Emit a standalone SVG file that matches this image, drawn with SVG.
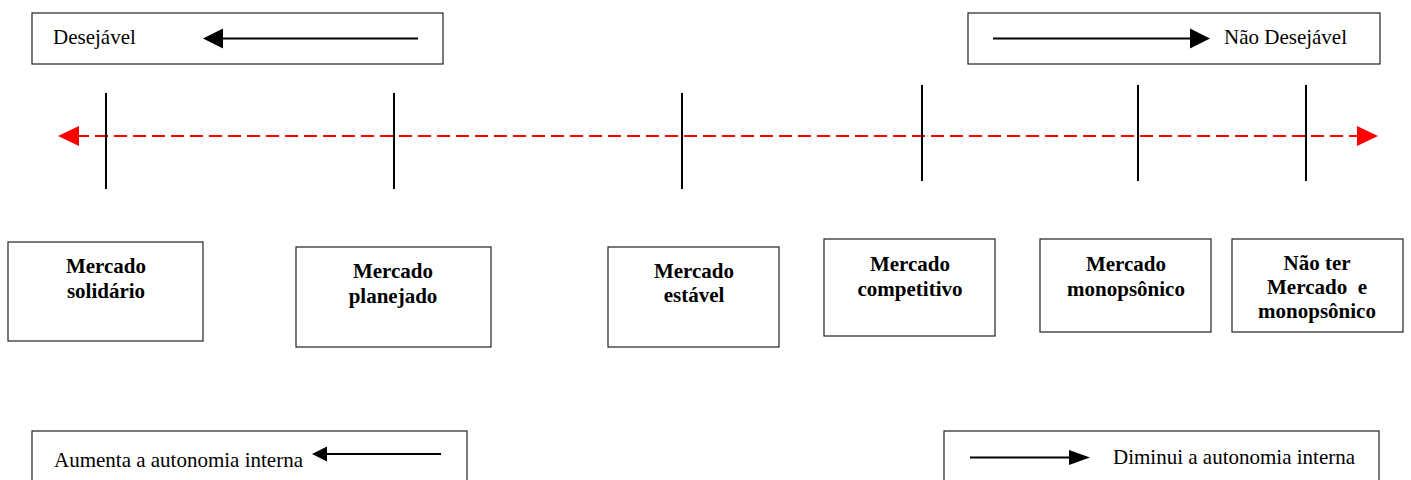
<svg xmlns="http://www.w3.org/2000/svg" width="1411" height="480" viewBox="0 0 1411 480">
<defs>
<style>
.box{fill:#fff;stroke:#222;stroke-width:1.2}
.t{font-family:"Liberation Serif","Times New Roman",serif;font-size:21px;fill:#000}
.b{font-family:"Liberation Serif","Times New Roman",serif;font-size:21px;font-weight:bold;fill:#000;text-anchor:middle;white-space:pre}
.tick{stroke:#000;stroke-width:2}
.ar{stroke:#000;stroke-width:2;fill:none}
</style>
</defs>
<rect width="1411" height="480" fill="#fff"/>
<g id="legend-desejavel">
<rect class="box" x="32" y="13" width="411" height="51"/>
<text class="t" x="53" y="44">Desejável</text>
<line class="ar" x1="418" y1="38.5" x2="220" y2="38.5"/>
<polygon points="203,38.5 223,28.5 223,48.5" fill="#000"/>
</g>
<g id="legend-nao-desejavel">
<rect class="box" x="968" y="13" width="412" height="51"/>
<line class="ar" x1="993" y1="38.5" x2="1192" y2="38.5"/>
<polygon points="1210,38.5 1190,28.5 1190,48.5" fill="#000"/>
<text class="t" x="1224" y="44">Não Desejável</text>
</g>
<g id="connectors">
<line x1="76" y1="136" x2="1360" y2="136" stroke="#f00" stroke-width="2" stroke-dasharray="13,6"/>
<polygon points="58,136 79,126 79,146" fill="#f00"/>
<polygon points="1378,136 1357,126 1357,146" fill="#f00"/>
<line class="tick" x1="106" y1="93" x2="106" y2="189"/>
<line class="tick" x1="394" y1="93" x2="394" y2="189"/>
<line class="tick" x1="682" y1="93" x2="682" y2="189"/>
<line class="tick" x1="922" y1="85" x2="922" y2="181"/>
<line class="tick" x1="1138" y1="85" x2="1138" y2="181"/>
<line class="tick" x1="1306" y1="85" x2="1306" y2="181"/>
</g>
<g id="node-solidario">
<rect class="box" x="8" y="242" width="195" height="99"/>
<text class="b" x="106" y="273">Mercado</text>
<text class="b" x="106" y="298">solidário</text>
</g>
<g id="node-planejado">
<rect class="box" x="296" y="247" width="195" height="100"/>
<text class="b" x="393" y="278">Mercado</text>
<text class="b" x="393" y="303">planejado</text>
</g>
<g id="node-estavel">
<rect class="box" x="608" y="247" width="171" height="100"/>
<text class="b" x="694" y="278">Mercado</text>
<text class="b" x="694" y="302">estável</text>
</g>
<g id="node-competitivo">
<rect class="box" x="824" y="239" width="171" height="97"/>
<text class="b" x="910" y="271">Mercado</text>
<text class="b" x="910" y="296">competitivo</text>
</g>
<g id="node-monopsonico">
<rect class="box" x="1040" y="239" width="171" height="93"/>
<text class="b" x="1126" y="271">Mercado</text>
<text class="b" x="1126" y="296">monopsônico</text>
</g>
<g id="node-nao-ter">
<rect class="box" x="1232" y="239" width="171" height="93"/>
<text class="b" x="1317" y="270">Não ter</text>
<text class="b" x="1317" y="294">Mercado  e</text>
<text class="b" x="1317" y="318">monopsônico</text>
</g>
<g id="legend-aumenta">
<rect class="box" x="32" y="431" width="435" height="60"/>
<text class="t" x="54" y="467">Aumenta a autonomia interna</text>
<line class="ar" x1="441" y1="454" x2="325" y2="454"/>
<polygon points="312,454 327,446.5 327,461.5" fill="#000"/>
</g>
<g id="legend-diminui">
<rect class="box" x="944" y="431" width="435" height="60"/>
<line class="ar" x1="970" y1="457.5" x2="1075" y2="457.5"/>
<polygon points="1090,457.5 1069,450 1069,465" fill="#000"/>
<text class="t" x="1113" y="464">Diminui a autonomia interna</text>
</g>
</svg>
